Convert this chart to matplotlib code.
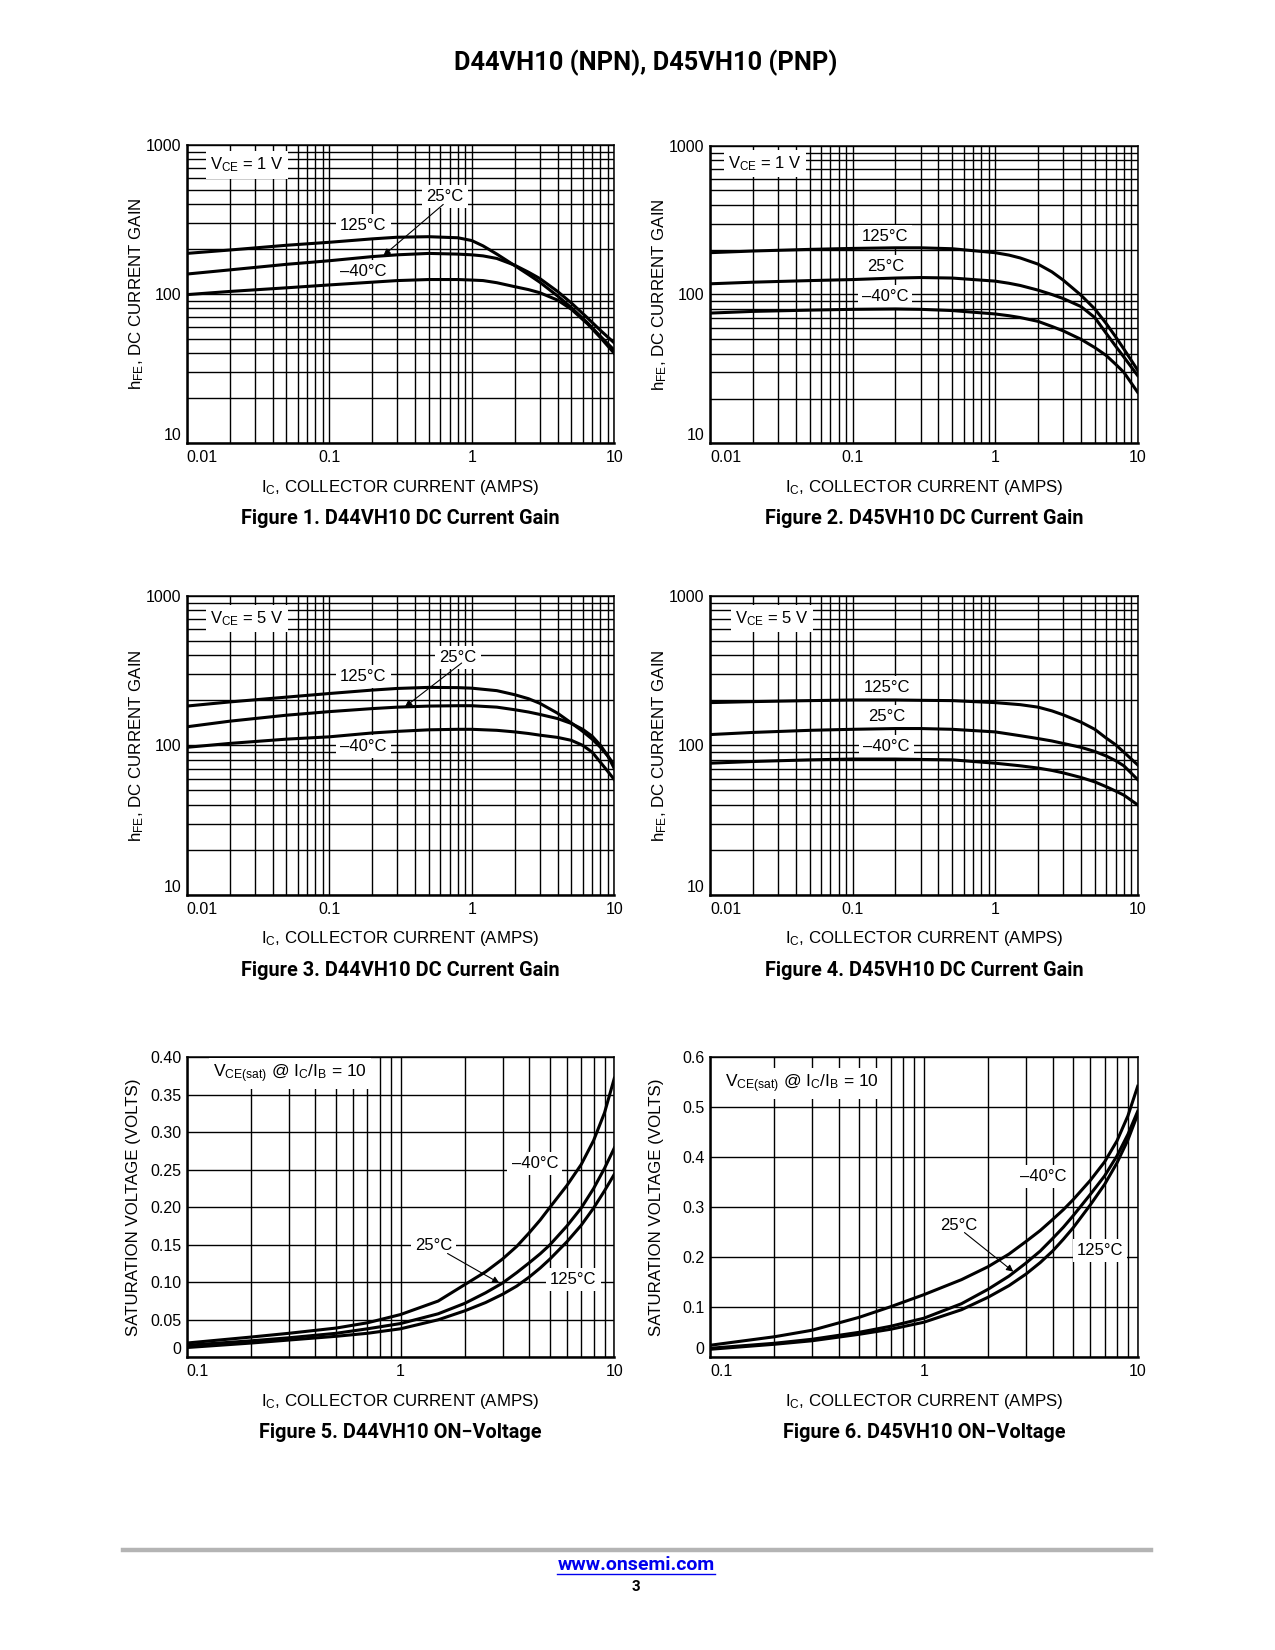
import matplotlib
matplotlib.use("Agg")
import matplotlib.pyplot as plt
from matplotlib.ticker import LogLocator, NullFormatter

plt.rcParams['font.family'] = ['Liberation Sans', 'DejaVu Sans']
plt.rcParams['mathtext.default'] = 'regular'

# ---- data ----
# Figure 1: D44VH10, VCE = 1 V
ic1 = [0.01, 0.02, 0.05, 0.1, 0.2, 0.3, 0.5, 0.8, 1.0, 1.2, 1.5, 2.0, 2.5, 3.0, 4.0, 5.0, 6.5, 8.0, 10.0]
hfe1_125 = [187, 197, 212, 222, 234, 240, 242, 238, 228, 210, 185, 155, 135, 120, 97, 81, 64, 52, 42]
hfe1_25 = [136, 145, 158, 167, 178, 183, 187, 185, 183, 180, 173, 156, 140, 127, 104, 87, 69, 57, 47]
hfe1_m40 = [99, 104, 110, 115, 120, 123, 125, 125, 124, 123, 119, 112, 107, 102, 91, 79, 63, 51, 40]

# Figure 2: D45VH10, VCE = 1 V
ic2 = [0.01, 0.02, 0.05, 0.1, 0.2, 0.3, 0.5, 1.0, 1.25, 1.5, 2.0, 2.5, 3.0, 4.0, 5.0, 6.0, 7.0, 8.0, 10.0]
hfe2_125 = [191, 196, 201, 204, 206, 206, 203, 191, 184, 176, 160, 142, 125, 99, 80, 64, 52, 43, 31]
hfe2_25 = [118, 121, 124, 126, 129, 130, 129, 123, 119, 115, 107, 100, 94, 83, 70, 55, 45, 38, 28.5]
hfe2_m40 = [75, 77, 78.5, 79.5, 80, 79.5, 78, 74, 72, 70, 66, 61, 57, 50, 44, 39, 34, 30, 22]

# Figure 3: D44VH10, VCE = 5 V
ic3 = [0.01, 0.02, 0.05, 0.1, 0.2, 0.3, 0.5, 0.8, 1.0, 1.5, 2.0, 2.5, 3.0, 4.0, 5.0, 6.0, 7.0, 8.0, 9.0, 10.0]
hfe3_125 = [183, 195, 210, 222, 234, 240, 244, 243, 241, 232, 218, 205, 191, 164, 141, 124, 110, 97, 85, 74]
hfe3_25 = [133, 145, 159, 168, 176, 180, 183, 184, 184, 180, 173, 167, 161, 151, 140, 128, 115, 100, 85, 70]
hfe3_m40 = [97, 103, 110, 114, 121, 124, 127, 128, 128, 126, 123, 120, 117, 113, 108, 100, 90, 77, 67, 59]

# Figure 4: D45VH10, VCE = 5 V
ic4 = [0.01, 0.02, 0.05, 0.1, 0.2, 0.3, 0.5, 1.0, 1.5, 2.0, 2.5, 3.0, 4.0, 5.0, 6.0, 7.0, 8.0, 10.0]
hfe4_125 = [193, 196, 199, 201, 201, 200, 199, 193, 187, 180, 170, 160, 143, 128, 112, 101, 90, 74]
hfe4_25 = [118, 122, 126, 128, 129.5, 129.5, 128, 123, 116, 111, 107, 103, 97, 91, 85, 79, 73, 59]
hfe4_m40 = [76, 78, 80, 81, 81, 80.5, 80, 76, 73, 70.5, 68, 65.5, 61, 57, 53, 49.5, 46.5, 40]

# Figure 5: D44VH10 VCE(sat), IC/IB = 10
ic5 = [0.1, 0.2, 0.3, 0.5, 0.7, 1.0, 1.5, 2.0, 2.5, 3.0, 3.5, 4.0, 4.5, 5.0, 6.0, 7.0, 8.0, 9.0, 10.0]
vce5_m40 = [0.019, 0.027, 0.032, 0.039, 0.046, 0.057, 0.075, 0.097, 0.114, 0.131, 0.148, 0.166, 0.183, 0.200,
            0.229, 0.257, 0.289, 0.326, 0.372]
vce5_25 = [0.016, 0.022, 0.026, 0.032, 0.038, 0.045, 0.058, 0.072, 0.086, 0.099, 0.113, 0.126, 0.138, 0.150,
           0.175, 0.199, 0.225, 0.252, 0.279]
vce5_125 = [0.013, 0.019, 0.023, 0.028, 0.032, 0.038, 0.050, 0.062, 0.073, 0.084, 0.095, 0.107, 0.119, 0.131,
            0.154, 0.176, 0.199, 0.222, 0.244]

# Figure 6: D45VH10 VCE(sat), IC/IB = 10
ic6 = [0.1, 0.2, 0.3, 0.5, 0.7, 1.0, 1.5, 2.0, 2.5, 3.0, 3.5, 4.0, 4.5, 5.0, 6.0, 7.0, 8.0, 9.0, 10.0]
vce6_m40 = [0.024, 0.041, 0.054, 0.080, 0.101, 0.125, 0.155, 0.181, 0.206, 0.231, 0.253, 0.275, 0.295, 0.315,
            0.353, 0.390, 0.432, 0.482, 0.541]
vce6_25 = [0.018, 0.028, 0.036, 0.050, 0.062, 0.078, 0.107, 0.136, 0.162, 0.188, 0.212, 0.237, 0.260, 0.283,
           0.325, 0.362, 0.402, 0.445, 0.491]
vce6_125 = [0.016, 0.026, 0.033, 0.046, 0.056, 0.070, 0.095, 0.120, 0.143, 0.166, 0.189, 0.212, 0.236, 0.259,
            0.304, 0.345, 0.388, 0.434, 0.485]

W, H = 1275, 1650
fig = plt.figure(figsize=(W / 100, H / 100), dpi=100)


def px_axes(left, top, right, bottom):
    return fig.add_axes([left / W, 1 - bottom / H, (right - left) / W, (bottom - top) / H])


def style(ax, logy):
    ax.set_xscale('log')
    ax.xaxis.set_minor_locator(LogLocator(base=10, subs=range(2, 10)))
    ax.xaxis.set_minor_formatter(NullFormatter())
    if logy:
        ax.set_yscale('log')
        ax.yaxis.set_minor_locator(LogLocator(base=10, subs=range(2, 10)))
        ax.yaxis.set_minor_formatter(NullFormatter())
        ax.grid(True, which='both', color='black', lw=1.0)
    else:
        ax.xaxis.grid(True, which='both', color='black', lw=1.0)
        ax.yaxis.grid(True, which='major', color='black', lw=1.0)
    ax.set_axisbelow(True)
    ax.tick_params(which='both', length=0, labelsize=11.5)
    ax.tick_params(axis='x', pad=5)
    ax.tick_params(axis='y', pad=4)
    for s in ['left', 'bottom']:
        ax.spines[s].set_linewidth(1.8)
    for s in ['top', 'right']:
        ax.spines[s].set_linewidth(1.1)


def lbl(ax, x, y, s, size=12):
    # white box hides the grid, curves stay on top
    ax.text(x, y, s, transform=ax.transAxes, ha='center', va='center', fontsize=size,
            bbox=dict(facecolor='white', edgecolor='none', pad=3), zorder=2.5)


def arrow_to(ax, tip, tail):
    ax.annotate('', xy=tip, xycoords='data', xytext=tail, textcoords='axes fraction',
                arrowprops=dict(arrowstyle='-|>', color='black', lw=0.8, mutation_scale=10,
                                shrinkA=0, shrinkB=0), zorder=5)


def texts(ax, cx, top, bottom, ylx, ylabel, caption):
    fig.text(cx / W, 1 - (bottom + 44) / H, r'I$_C$, COLLECTOR CURRENT (AMPS)',
             ha='center', va='center', fontsize=12.2)
    fig.text(cx / W, 1 - (bottom + 75) / H, caption, ha='center', va='center',
             fontsize=14.3, fontweight='bold', family='Roboto')
    fig.text(ylx / W, 1 - (top + bottom) / 2 / H, ylabel, rotation=90,
             ha='center', va='center', fontsize=12.2)


def hfe_panel(left, top, right, bottom, ic, c125, c25, cm40, vce, caption, labels, arrow):
    ax = px_axes(left, top, right, bottom)
    style(ax, True)
    for y in (c125, c25, cm40):
        ax.plot(ic, y, color='black', lw=2.2, solid_joinstyle='round', zorder=3)
    ax.set_xlim(0.01, 10)
    ax.set_ylim(10, 1000)
    ax.set_xticks([0.01, 0.1, 1, 10])
    ax.set_xticklabels(['0.01', '0.1', '1', '10'])
    ax.get_xticklabels()[0].set_ha('left')
    ax.set_yticks([10, 100, 1000])
    ax.set_yticklabels(['10', '100', '1000'])
    ax.get_yticklabels()[0].set_va('bottom')
    lbl(ax, labels[0][0], labels[0][1], r'V$_{CE}$ = ' + vce)
    lbl(ax, labels[1][0], labels[1][1], '125°C')
    lbl(ax, labels[2][0], labels[2][1], '25°C')
    lbl(ax, labels[3][0], labels[3][1], '–40°C')
    if arrow:
        arrow_to(ax, arrow[0], arrow[1])
    texts(ax, (left + right) / 2, top, bottom, left - 50, r'h$_{FE}$, DC CURRENT GAIN', caption)
    return ax


def vsat_panel(left, top, right, bottom, ic, cm40, c25, c125, ymax, ystep, yfmt, caption, labels, arrow):
    ax = px_axes(left, top, right, bottom)
    style(ax, False)
    for y in (cm40, c25, c125):
        ax.plot(ic, y, color='black', lw=2.2, solid_joinstyle='round', zorder=3)
    ax.set_xlim(0.1, 10)
    ax.set_ylim(0, ymax)
    ax.set_xticks([0.1, 1, 10])
    ax.set_xticklabels(['0.1', '1', '10'])
    ax.get_xticklabels()[0].set_ha('left')
    ticks = [i * ystep for i in range(int(round(ymax / ystep)) + 1)]
    ax.set_yticks(ticks)
    ax.set_yticklabels(['0'] + [yfmt % t for t in ticks[1:]])
    ax.get_yticklabels()[0].set_va('bottom')
    lbl(ax, labels[0][0], labels[0][1], r'V$_{CE(sat)}$ @ I$_C$/I$_B$ = 10', size=12.5)
    lbl(ax, labels[1][0], labels[1][1], '–40°C')
    lbl(ax, labels[2][0], labels[2][1], '25°C')
    lbl(ax, labels[3][0], labels[3][1], '125°C')
    arrow_to(ax, arrow[0], arrow[1])
    texts(ax, (left + right) / 2, top, bottom, left - 53, 'SATURATION VOLTAGE (VOLTS)', caption)
    return ax


L1, R1 = 186.7, 614.3
L2, R2 = 710, 1137.7

hfe_panel(L1, 144.7, R1, 443.3, ic1, hfe1_125, hfe1_25, hfe1_m40, '1 V',
          'Figure 1. D44VH10 DC Current Gain',
          [(0.14, 0.932), (0.413, 0.728), (0.604, 0.826), (0.413, 0.575)],
          ((0.24, 181), (0.60, 0.80)))
hfe_panel(L2, 145.7, R2, 443.3, ic2, hfe2_125, hfe2_25, hfe2_m40, '1 V',
          'Figure 2. D45VH10 DC Current Gain',
          [(0.129, 0.941), (0.409, 0.694), (0.411, 0.593), (0.409, 0.493)], None)
hfe_panel(L1, 595.7, R1, 895, ic3, hfe3_125, hfe3_25, hfe3_m40, '5 V',
          'Figure 3. D44VH10 DC Current Gain',
          [(0.14, 0.924), (0.413, 0.729), (0.635, 0.794), (0.413, 0.497)],
          ((0.34, 181), (0.643, 0.775)))
hfe_panel(L2, 595.7, R2, 895, ic4, hfe4_125, hfe4_25, hfe4_m40, '5 V',
          'Figure 4. D45VH10 DC Current Gain',
          [(0.144, 0.924), (0.413, 0.694), (0.413, 0.596), (0.413, 0.496)], None)
vsat_panel(L1, 1057.3, R1, 1357.3, ic5, vce5_m40, vce5_25, vce5_125, 0.40, 0.05, '%.2f',
           'Figure 5. D44VH10 ON−Voltage',
           [(0.242, 0.947), (0.814, 0.647), (0.577, 0.374), (0.904, 0.26)],
           ((2.9, 0.099), (0.61, 0.346)))
vsat_panel(L2, 1056.7, R2, 1357.3, ic6, vce6_m40, vce6_25, vce6_125, 0.6, 0.1, '%.1f',
           'Figure 6. D45VH10 ON−Voltage',
           [(0.214, 0.911), (0.779, 0.601), (0.581, 0.44), (0.912, 0.355)],
           ((2.62, 0.171), (0.595, 0.415)))

# page header and footer
fig.text(646 / W, 1 - 63 / H, 'D44VH10 (NPN), D45VH10 (PNP)', ha='center', va='center',
         fontsize=18.3, fontweight='bold', family='Roboto')
fig.add_artist(plt.Line2D([123 / W, 1151 / W], [1 - 1550 / H, 1 - 1550 / H],
                          color='#b4b4b4', lw=3.2, transform=fig.transFigure))
fig.text(636 / W, 1 - 1565 / H, 'www.onsemi.com', ha='center', va='center', fontsize=14,
         fontweight='bold', family='Roboto', color='#0000ee')
fig.add_artist(plt.Line2D([557 / W, 715 / W], [1 - 1574 / H, 1 - 1574 / H],
                          color='#0000ee', lw=1.0, transform=fig.transFigure))
fig.text(636 / W, 1 - 1587 / H, '3', ha='center', va='center', fontsize=11,
         fontweight='bold', family='Roboto')

fig.savefig('out.png', dpi=100, facecolor='white')
